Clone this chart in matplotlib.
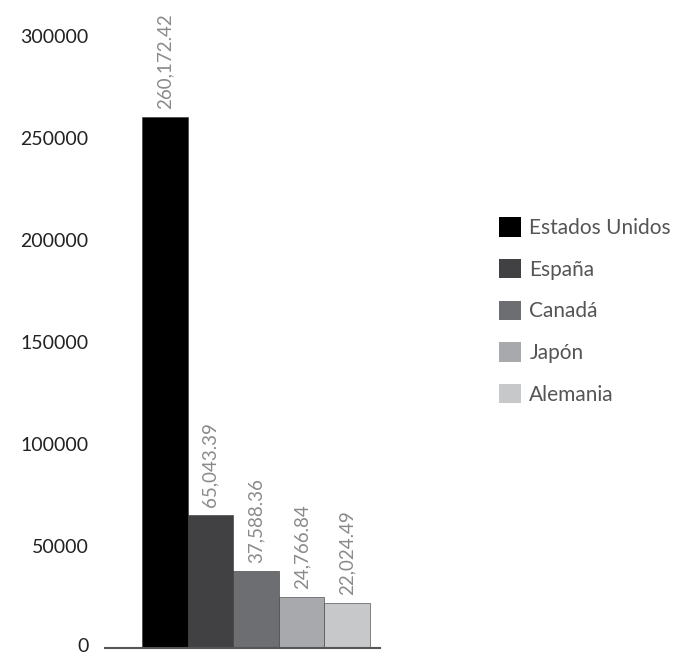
import matplotlib.pyplot as plt
import matplotlib.transforms as mtransforms
from matplotlib.patches import Patch

paises = ["Estados Unidos", "España", "Canadá", "Japón", "Alemania"]
valores = [260172.42, 65043.39, 37588.36, 24766.84, 22024.49]
etiquetas = ["260,172.42", "65,043.39", "37,588.36", "24,766.84", "22,024.49"]
colores = ["#000000", "#414143", "#6d6e71", "#a7a9ac", "#c7c8ca"]
yticks = [0, 50000, 100000, 150000, 200000, 250000, 300000]

plt.rcParams["font.family"] = ["Lato", "DejaVu Sans"]

fig = plt.figure(figsize=(6.86, 6.56), dpi=100)
ax = fig.add_axes([105 / 686, 8 / 656, 275 / 686, 612 / 656])

x = list(range(len(valores)))
ax.bar(x, valores, width=1.0, color=colores, edgecolor="#333333", linewidth=0.4)

for xi, v, t in zip(x, valores, etiquetas):
    ax.annotate(t, (xi, v), xytext=(0, 6), textcoords="offset points",
                rotation=90, ha="center", va="bottom", fontsize=13.5,
                color="#8a8a8a", annotation_clip=False)

ax.set_xlim(-1.31, 4.72)
ax.set_ylim(0, 300000)
ax.set_yticks(yticks)
ax.set_yticklabels([str(t) for t in yticks])
ax.set_xticks([])
ax.tick_params(axis="y", length=0, pad=12, labelsize=14, labelcolor="#222222")

# lift the "0" label a little so it stays inside the figure
zero = ax.yaxis.get_major_ticks()[0].label1
zero.set_transform(mtransforms.offset_copy(zero.get_transform(), fig=fig, x=0, y=3, units="dots"))

for s in ["top", "right", "left"]:
    ax.spines[s].set_visible(False)
ax.spines["bottom"].set_color("#555555")
ax.spines["bottom"].set_linewidth(1.5)

handles = [Patch(facecolor=c, edgecolor="none", label=p) for c, p in zip(colores, paises)]
leg = fig.legend(handles=handles, loc="center left", bbox_to_anchor=(499 / 686, 1 - 311 / 656),
                 frameon=False, fontsize=15, handlelength=1.06, handleheight=1.06,
                 handletextpad=0.4, labelspacing=1.0, borderaxespad=0, borderpad=0)
for txt in leg.get_texts():
    txt.set_color("#555555")

fig.savefig("out.png", dpi=100)
